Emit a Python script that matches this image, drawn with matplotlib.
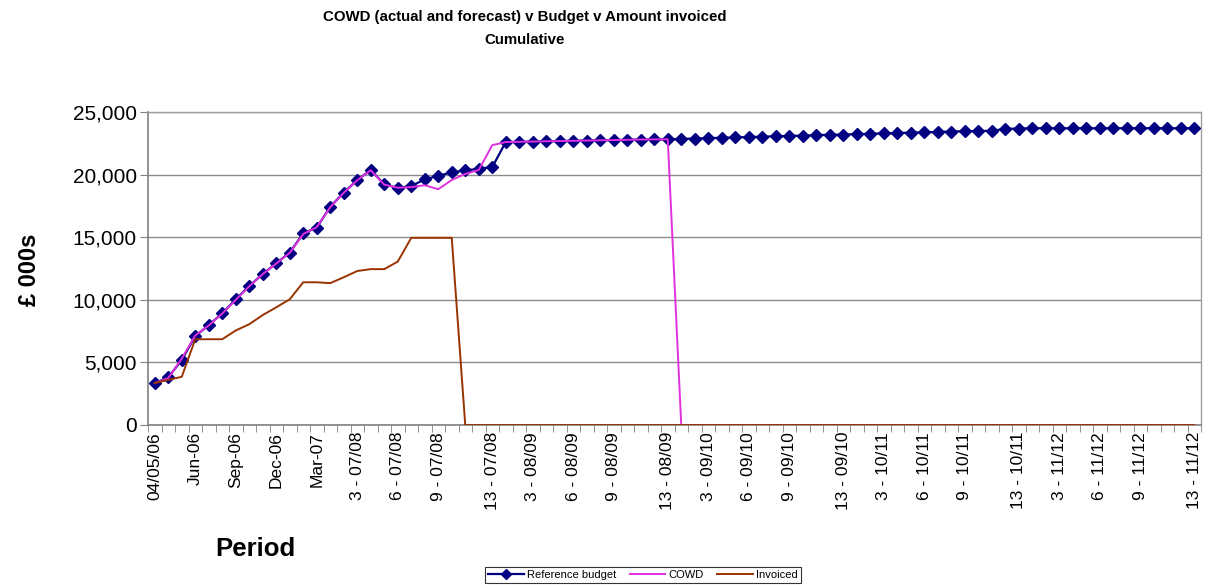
import matplotlib
matplotlib.use("Agg")
import matplotlib.pyplot as plt
from matplotlib.ticker import FuncFormatter, FixedLocator
import numpy as np

plt.rcParams['font.family'] = ['Liberation Sans', 'DejaVu Sans']

# ---- data ----
budget = [3350, 3800, 5200, 7100, 7980, 8920, 10040, 11100, 12060, 12920,
          13770, 15310, 15760, 17440, 18560, 19570, 20370, 19220, 18930, 19090,
          19620, 19900, 20180, 20330, 20470, 20600,
          22600, 22620, 22640, 22660, 22680, 22700, 22720, 22740, 22760, 22780,
          22800, 22810, 22820,
          22850, 22880, 22910, 22940, 22970, 23000, 23030, 23060, 23090, 23120,
          23150, 23180, 23200,
          23230, 23260, 23290, 23320, 23350, 23380, 23410, 23440, 23460, 23480,
          23500,
          23650, 23680, 23700, 23700, 23700, 23700, 23700, 23700, 23700, 23700,
          23700, 23700, 23700, 23700, 23700]

cowd = [3350, 3750, 5300, 7150, 7950, 8900, 10000, 11080, 12050, 12900,
        13750, 15250, 15800, 17400, 18550, 19550, 20350, 19200, 18950, 19000,
        19150, 18830, 19570, 20050, 20370, 22350,
        22600, 22620, 22640, 22660, 22680, 22700, 22720, 22740, 22760, 22780,
        22800, 22810, 22820] + [0] * 39

invoiced = [3350, 3600, 3850, 6850, 6850, 6850, 7550, 8050, 8780, 9400,
            10040, 11400, 11400, 11330, 11800, 12300, 12450, 12450, 13050, 14950,
            14950, 14950, 14950] + [0] * 55

label_idx = [0, 3, 6, 9, 12, 15, 18, 21, 25, 28, 31, 34, 38, 41, 44, 47, 51,
             54, 57, 60, 64, 67, 70, 73, 77]
label_text = ["04/05/06", "Jun-06", "Sep-06", "Dec-06", "Mar-07",
              "3 - 07/08", "6 - 07/08", "9 - 07/08", "13 - 07/08",
              "3 - 08/09", "6 - 08/09", "9 - 08/09", "13 - 08/09",
              "3 - 09/10", "6 - 09/10", "9 - 09/10", "13 - 09/10",
              "3 - 10/11", "6 - 10/11", "9 - 10/11", "13 - 10/11",
              "3 - 11/12", "6 - 11/12", "9 - 11/12", "13 - 11/12"]

series_names = ["Reference budget", "COWD", "Invoiced"]

# ---- figure ----
fig = plt.figure(figsize=(12.08, 5.88), dpi=100)
ax = fig.add_axes([148/1208, 1-425/588, (1201-148)/1208, (425-112)/588])

x = np.arange(len(budget))
ax.plot(x, budget, color='#000080', lw=1.6, marker='D', markersize=6,
        markerfacecolor='#000080', markeredgecolor='#000080', label=series_names[0], zorder=3)
ax.plot(x, cowd, color='#E030E0', lw=1.4, label=series_names[1], zorder=4)
ax.plot(x, invoiced, color='#993300', lw=1.4, label=series_names[2], zorder=5)

ax.set_xlim(-0.5, len(budget) - 0.5)
ax.set_ylim(0, 25000)
ax.set_yticks(np.arange(0, 25001, 5000))
ax.yaxis.set_major_formatter(FuncFormatter(lambda v, p: f"{int(v):,}"))
ax.tick_params(axis='y', labelsize=15, length=6, color='#808080', pad=2)
ax.grid(axis='y', color='#8c8c8c', lw=1.0)
ax.set_axisbelow(True)

ax.xaxis.set_major_locator(FixedLocator(label_idx))
ax.set_xticklabels(label_text, rotation=90, fontsize=12.5)
ax.xaxis.set_minor_locator(FixedLocator(np.arange(-0.5, len(budget), 1.0)))
ax.tick_params(axis='x', which='major', length=0, pad=5)
ax.tick_params(axis='x', which='minor', length=5, color='#808080')

for s in ['left', 'bottom']:
    ax.spines[s].set_color('#808080')
    ax.spines[s].set_linewidth(1.2)
for s in ['top', 'right']:
    ax.spines[s].set_color('#a0a0a0')
    ax.spines[s].set_linewidth(1.0)

fig.text(30/1208, 1-270/588, "£ 000s", rotation=90, fontsize=17, fontweight='bold',
         ha='center', va='center')
fig.text(255/1208, 1-549/588, "Period", fontsize=18.5, fontweight='bold',
         ha='center', va='center')
fig.text(525/1208, 1-17/588, "COWD (actual and forecast) v Budget v Amount invoiced",
         fontsize=10.8, fontweight='bold', ha='center', va='center')
fig.text(525/1208, 1-40/588, "Cumulative", fontsize=10.8, fontweight='bold',
         ha='center', va='center')

leg = fig.legend(loc='center', bbox_to_anchor=(643/1208, 1-575/588), ncol=3,
                 fontsize=8, frameon=True, fancybox=False, edgecolor='black',
                 handlelength=3.2, columnspacing=1.2, handletextpad=0.3,
                 borderpad=0.3, markerscale=0.8)
leg.get_frame().set_linewidth(0.8)

fig.savefig("out.png", dpi=100)
